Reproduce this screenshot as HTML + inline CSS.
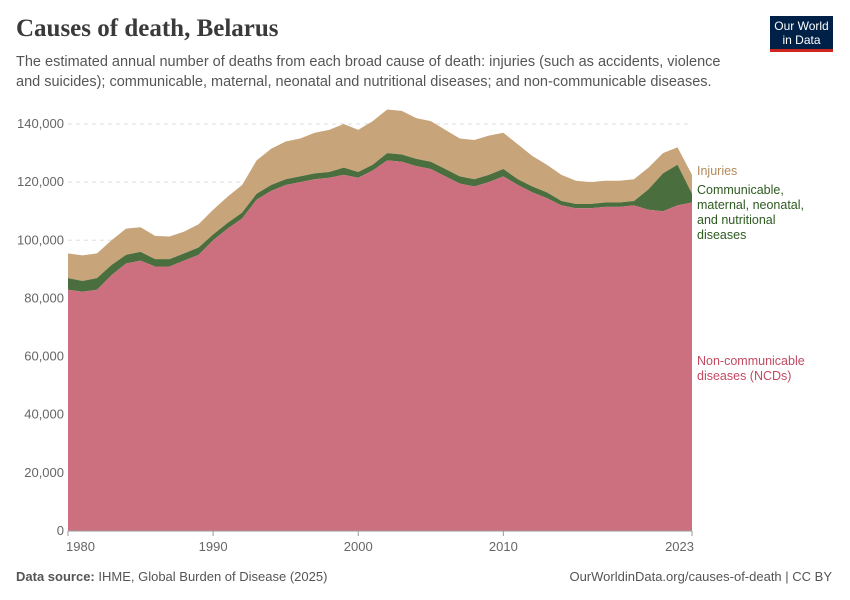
<!DOCTYPE html>
<html><head><meta charset="utf-8"><style>
body{margin:0;background:#fff;font-family:"Liberation Sans",sans-serif;}
#wrap{position:relative;width:850px;height:600px;overflow:hidden;}
.t{position:absolute;}
</style></head><body>
<div id="wrap">
<div class="t" style="left:16px;top:15px;font-family:'Liberation Serif',serif;font-size:25px;font-weight:bold;color:#3a3a3a;">Causes of death, Belarus</div>
<div class="t" style="left:16px;top:52px;width:720px;font-size:14.5px;line-height:20px;color:#555;">The estimated annual number of deaths from each broad cause of death: injuries (such as accidents, violence and suicides); communicable, maternal, neonatal and nutritional diseases; and non-communicable diseases.</div>
<div class="t" style="left:770px;top:16px;width:63px;height:36px;background:#002147;border-bottom:3px solid #ce261e;color:#fff;font-size:12px;line-height:14px;text-align:center;padding-top:3px;box-sizing:border-box;">Our World<br>in Data</div>
<svg id="chart" width="850" height="600" style="position:absolute;left:0;top:0"></svg>
<div class="t" style="left:16px;top:569px;font-size:13px;color:#555;"><b>Data source:</b> IHME, Global Burden of Disease (2025)</div>
<div class="t" style="right:18px;top:569px;font-size:13px;color:#555;">OurWorldinData.org/causes-of-death | CC BY</div>
</div>
<script>
const years=[];for(let y=1980;y<=2023;y++)years.push(y);
const ncd=[83000,82300,83000,88000,92000,93000,91000,91000,93000,95000,100000,104000,107500,114000,117000,119000,120000,121000,121500,122500,121500,124000,127500,127000,125500,124500,122000,119500,118500,120000,122000,119000,116500,114500,112000,111000,111000,111500,111500,112000,110500,110000,112000,113000];
const cmnn=[4000,3700,4000,3500,3000,3000,2500,2500,2500,2500,2000,2000,2000,2000,2000,2000,2000,2000,2000,2500,2000,2000,2500,2500,2500,2500,2500,2500,2500,2500,2500,2000,2000,2000,1500,1500,1500,1500,1500,1500,7000,13000,14000,3000];
const injuries=[8500,8800,8500,8500,9000,8500,8000,7800,7500,8000,8500,9000,9500,11500,12500,13000,13000,14000,14500,15000,14500,15000,15000,15000,14000,14000,13500,13000,13500,13500,12500,12000,10500,9500,9000,8000,7500,7500,7500,7500,7500,7000,6000,6500];
const yTicks=[0,20000,40000,60000,80000,100000,120000,140000];
const xTicks=[1980,1990,2000,2010,2023];
const NS="http://www.w3.org/2000/svg",svg=document.getElementById('chart');
const X0=68,X1=692,Y0=531,Y1=124;
const xs=y=>X0+(y-1980)/(2023-1980)*(X1-X0);
const ys=v=>Y0-v/140000*(Y0-Y1);
function mk(t,a){const e=document.createElementNS(NS,t);for(const k in a)e.setAttribute(k,a[k]);svg.appendChild(e);return e;}
yTicks.forEach(v=>{
 if(v>0){const l=mk('line',{x1:X0,x2:X1,y1:ys(v),y2:ys(v),stroke:'#ddd','stroke-dasharray':'4,4'});
 
 }
 const t=mk('text',{x:64,y:ys(v)+4,'text-anchor':'end','font-size':13,fill:'#666','font-family':'Liberation Sans'});
 t.textContent=v.toLocaleString('en-US');
 
 
});
const c1=ncd.map((v,i)=>v),c2=ncd.map((v,i)=>v+cmnn[i]),c3=c2.map((v,i)=>v+injuries[i]);
function area(top,bot,col,name){
 let d='M'+years.map((y,i)=>xs(y)+','+ys(top[i])).join('L');
 for(let i=years.length-1;i>=0;i--)d+='L'+xs(years[i])+','+ys(bot?bot[i]:0);
 const p=mk('path',{d:d+'Z',fill:col});
 
 
}
area(c3,c2,'#c8a47a','injuries-area');
area(c2,c1,'#4a6e3e','cmnn-area');
area(c1,null,'#cc7080','ncd-area');
const ax=mk('line',{x1:X0,x2:X1,y1:Y0,y2:Y0,stroke:'#999'});


xTicks.forEach(y=>{
 const tk=mk('line',{x1:xs(y),x2:xs(y),y1:Y0,y2:Y0+5,stroke:'#999'});
 
 
 const t=mk('text',{x:xs(y),y:551,'text-anchor':y===1980?'start':(y===2023?'end':'middle'),'font-size':13,fill:'#666','font-family':'Liberation Sans'});
 if(y===1980)t.setAttribute('x',xs(y)-2);
 if(y===2023)t.setAttribute('x',xs(y)+2);
 t.textContent=y;
 
 
});
function lab(lines,y,col,name){
 lines.forEach((s,i)=>{const t=mk('text',{x:697,y:y+i*15,'font-size':12.5,fill:col,'font-family':'Liberation Sans'});
 t.textContent=s;
 
 });
}
lab(['Injuries'],175,'#b08a5a','injuries-label');
lab(['Communicable,','maternal, neonatal,','and nutritional','diseases'],194,'#2e5a20','cmnn-label');
lab(['Non-communicable','diseases (NCDs)'],365,'#c44a62','ncd-label');
</script>
</body></html>
